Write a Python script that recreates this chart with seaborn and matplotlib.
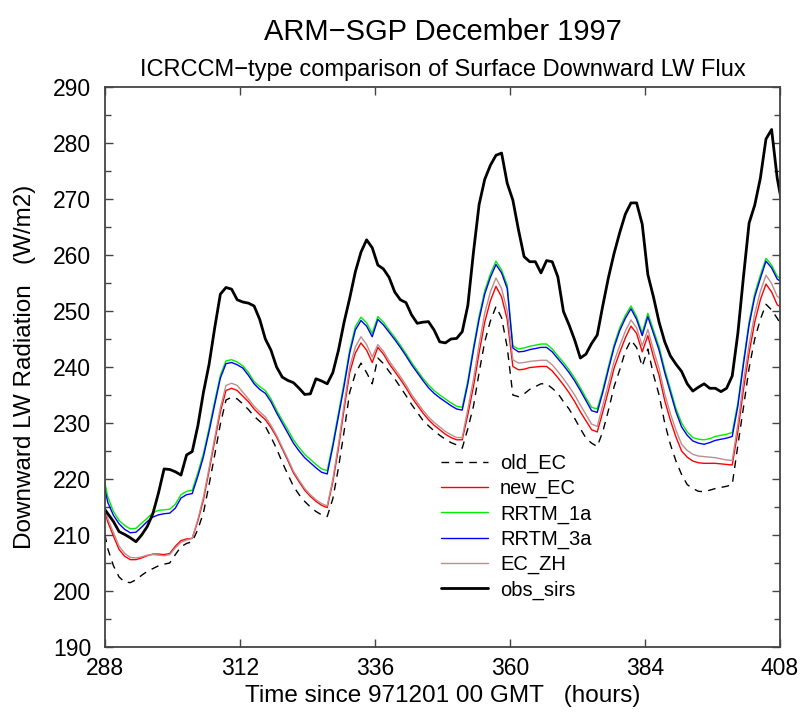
import numpy as np
import pandas as pd
import matplotlib
matplotlib.use("Agg")
import matplotlib.pyplot as plt
from matplotlib.ticker import MultipleLocator
import seaborn as sns

# hourly-mean times (hours since 971201 00 GMT)
hours = np.arange(287.5, 409.0, 1.0)

obs_sirs = [
    215.2, 213.8, 212.4, 210.6, 210.1, 209.5, 208.8, 210.0, 211.5, 213.8,
    217.5, 221.8, 221.7, 221.3, 220.7, 224.3, 224.9, 229.5, 235.5, 240.5,
    247.0, 253.0, 254.2, 253.9, 252.0, 251.6, 251.4, 250.9, 248.5, 245.0,
    243.0, 240.0, 238.2, 237.6, 237.2, 236.2, 235.1, 235.2, 237.9, 237.5,
    237.0, 239.0, 243.0, 248.0, 252.3, 257.0, 260.5, 262.7, 261.3, 258.2,
    257.5, 256.0, 253.4, 252.0, 251.5, 249.3, 247.8, 248.0, 248.1, 246.6,
    244.5, 244.3, 245.0, 245.1, 246.3, 251.0, 260.5, 269.0, 273.5, 276.0,
    277.8, 278.2, 272.8, 269.8, 264.5, 259.7, 258.8, 258.8, 256.8, 259.0,
    258.8, 256.1, 249.9, 247.5, 244.8, 241.6, 242.3, 244.2, 245.7, 251.0,
    256.0, 260.3, 264.0, 267.3, 269.3, 269.3, 265.5, 256.5, 252.5, 248.0,
    244.5, 242.0, 240.5, 239.2, 237.0, 235.7, 236.4, 237.0, 236.2, 236.2,
    235.6, 236.2, 238.4, 246.0, 256.1, 265.7, 268.9, 273.7, 280.7, 282.4,
    273.7, 268.3,
]

rrtm_3a = [
    220.3, 215.8, 213.5, 212.0, 211.0, 210.4, 210.5, 211.4, 212.4, 213.2,
    213.6, 213.8, 213.9, 214.8, 216.6, 217.2, 217.4, 220.5, 224.0, 228.5,
    233.3, 238.0, 240.6, 240.8, 240.4, 239.8, 238.5, 237.0, 236.0, 235.3,
    233.8, 231.8, 230.0, 228.2, 226.4, 225.0, 223.8, 222.9, 222.0, 221.2,
    220.9, 225.8, 231.2, 236.6, 242.5, 246.6, 248.3, 247.3, 245.4, 248.5,
    247.5, 246.2, 244.9, 243.5, 242.0, 240.4, 239.0, 237.6, 236.3, 235.3,
    234.5, 233.8, 233.1, 232.5, 232.3, 237.0, 243.0, 248.5, 253.0, 256.0,
    258.3, 256.8, 254.0, 243.4, 242.7, 242.8, 243.1, 243.3, 243.5, 243.5,
    242.7, 241.5, 240.3, 239.0, 237.5, 235.8, 234.0, 232.2, 231.9, 235.5,
    239.6, 243.5, 246.5, 248.7, 250.4, 248.5, 245.6, 249.0, 246.0, 243.0,
    239.0, 235.5, 232.0, 229.3, 227.8, 226.8, 226.4, 226.2, 226.5, 226.9,
    227.1, 227.3, 227.6, 233.0, 240.5, 247.5, 252.5, 255.8, 258.9, 257.7,
    255.7, 255.0,
]

rrtm_1a = [
    221.5, 216.8, 214.2, 212.6, 211.7, 211.1, 211.2, 212.1, 213.0, 214.0,
    214.4, 214.5, 214.6, 215.5, 217.2, 217.8, 218.0, 221.1, 224.6, 229.1,
    233.9, 238.5, 241.1, 241.3, 240.9, 240.2, 239.0, 237.4, 236.5, 235.8,
    234.3, 232.3, 230.5, 228.8, 227.0, 225.6, 224.4, 223.5, 222.6, 221.8,
    221.5, 226.4, 231.8, 237.2, 243.1, 247.2, 248.9, 247.9, 246.0, 249.0,
    248.0, 246.6, 245.3, 243.9, 242.4, 240.8, 239.4, 238.0, 236.8, 235.8,
    235.0, 234.3, 233.6, 233.0, 232.8, 237.6, 243.6, 249.1, 253.6, 256.6,
    258.9, 257.3, 254.6, 243.8, 243.2, 243.4, 243.7, 243.9, 244.1, 244.1,
    243.2, 242.0, 240.8, 239.5, 238.0, 236.3, 234.5, 232.8, 232.5, 236.0,
    240.1, 244.0, 247.0, 249.2, 250.9, 249.0, 246.1, 249.6, 246.6, 243.6,
    239.6, 236.1, 232.6, 230.0, 228.4, 227.4, 227.1, 227.0, 227.2, 227.6,
    227.8, 228.0, 228.3, 233.6, 241.1, 248.1, 253.1, 256.4, 259.4, 258.2,
    256.2, 255.4,
]

new_ec = [
    215.8, 212.3, 209.8, 207.4, 206.2, 205.6, 205.6, 205.9, 206.3, 206.6,
    206.6, 206.5, 206.7, 208.0, 209.0, 209.3, 209.4, 212.5, 216.3, 221.5,
    226.8, 232.0, 235.8, 236.2, 235.8, 234.8, 233.8, 232.5, 231.5, 230.6,
    229.2, 227.5, 225.4, 223.3, 221.1, 219.5, 218.0, 216.9, 216.0, 215.3,
    214.9, 219.5, 225.5, 232.5, 239.0, 242.5, 244.3, 243.0, 240.8, 243.5,
    242.3, 240.6, 239.2, 237.8, 236.3, 234.6, 233.2, 231.8, 230.6, 229.6,
    228.8, 228.0, 227.4, 227.0, 227.0, 231.5, 236.5, 242.5, 248.0, 251.8,
    254.4, 252.5, 248.5, 240.1, 239.5, 239.6, 239.9, 240.0, 240.1, 240.1,
    239.3, 238.1, 236.8, 235.4, 233.8, 232.0, 230.4, 228.8, 228.4, 232.0,
    235.8, 239.8, 242.6, 245.2, 247.3, 246.0, 242.7, 245.6, 241.8, 238.5,
    234.0, 230.5, 227.5, 225.0, 223.9, 223.2, 222.9, 222.8, 222.8, 222.8,
    222.7, 222.6, 222.5, 228.5, 236.0, 242.5, 248.0, 252.0, 254.8, 253.4,
    251.1, 250.5,
]

ec_zh = [
    216.3, 212.9, 210.4, 208.0, 206.7, 206.0, 205.9, 206.1, 206.4, 206.5,
    206.4, 206.3, 206.5, 207.7, 208.7, 209.1, 209.4, 212.8, 216.8, 222.0,
    227.4, 232.7, 236.7, 237.1, 236.7, 235.5, 234.3, 233.0, 232.0, 231.1,
    229.6, 227.8, 225.7, 223.6, 221.4, 219.8, 218.3, 217.2, 216.3, 215.6,
    215.2, 220.0, 226.2, 233.3, 240.0, 243.6, 245.4, 244.0, 241.8, 244.0,
    242.8, 241.1, 239.7, 238.3, 236.8, 235.1, 233.7, 232.3, 231.1, 230.1,
    229.3, 228.5, 227.9, 227.4, 227.4, 232.5, 237.8, 244.0, 249.6, 253.4,
    255.9, 254.0, 250.0, 241.3, 240.7, 240.8, 241.0, 241.1, 241.2, 241.2,
    240.4, 239.2, 237.9, 236.5, 235.0, 233.2, 231.5, 229.8, 229.4, 233.2,
    237.0, 241.0, 243.8, 246.4, 248.4, 247.0, 243.8, 246.7, 243.0, 239.7,
    235.2, 231.7, 228.7, 226.2, 225.1, 224.4, 224.1, 224.0, 223.9, 223.8,
    223.6, 223.4, 223.3, 229.8, 237.4, 244.0, 249.5, 253.5, 256.4, 254.9,
    252.6, 252.0,
]

old_ec = [
    212.5, 207.5, 204.5, 202.5, 201.6, 201.5, 202.0, 202.8, 203.5, 204.0,
    204.5, 204.8, 205.0, 206.5, 207.9, 208.5, 208.8, 211.0, 214.0, 219.0,
    224.3, 229.8, 234.1, 234.6, 234.3, 233.4, 232.4, 231.2, 230.3, 229.4,
    227.5, 225.4, 223.0, 220.8, 218.7, 217.2, 216.0, 215.0, 214.2, 213.6,
    213.3, 216.5, 222.0, 228.5, 235.5, 238.8, 240.7, 239.0, 237.0, 241.6,
    240.6, 239.2, 237.9, 236.4, 234.9, 233.3, 231.9, 230.5, 229.5, 228.6,
    227.8, 227.1, 226.5, 226.1, 225.5, 229.0, 233.0, 239.0, 244.5, 248.2,
    250.8, 248.8, 243.5, 235.0, 234.7, 235.2, 236.0, 236.5, 237.0, 237.0,
    236.2, 235.3, 233.8, 232.5, 230.8, 229.0, 227.3, 226.4, 225.8, 228.5,
    232.3, 236.5, 239.5, 242.8, 244.8, 243.5, 240.1, 243.2, 238.6, 235.0,
    230.0, 226.2, 223.2, 220.8, 219.0, 218.3, 217.8, 217.75, 218.0, 218.3,
    218.5, 218.7, 219.0, 226.0, 232.8, 239.8, 245.0, 248.5, 251.2, 250.2,
    248.7, 247.0,
]

series_names = ["old_EC", "new_EC", "RRTM_1a", "RRTM_3a", "EC_ZH", "obs_sirs"]
x_ticks = [288, 312, 336, 360, 384, 408]
y_ticks = [190, 200, 210, 220, 230, 240, 250, 260, 270, 280, 290]

df = pd.DataFrame({
    "hour": hours,
    "old_EC": old_ec,
    "new_EC": new_ec,
    "RRTM_1a": rrtm_1a,
    "RRTM_3a": rrtm_3a,
    "EC_ZH": ec_zh,
    "obs_sirs": obs_sirs,
})

sns.set_style("ticks")
plt.rcParams["font.family"] = ["Liberation Sans", "DejaVu Sans"]
plt.rcParams["text.color"] = "black"
plt.rcParams["axes.labelcolor"] = "black"
plt.rcParams["xtick.labelcolor"] = "black"
plt.rcParams["ytick.labelcolor"] = "black"

styles = {
    "old_EC": dict(color="black", lw=1.0, ls=(0, (5.5, 4.5))),
    "new_EC": dict(color="#ff0000", lw=1.0, ls="-"),
    "RRTM_1a": dict(color="#00ee00", lw=1.0, ls="-"),
    "RRTM_3a": dict(color="#0000ff", lw=1.0, ls="-"),
    "EC_ZH": dict(color="#bc8f8f", lw=1.0, ls="-"),
    "obs_sirs": dict(color="black", lw=2.0, ls="-"),
}

fig = plt.figure(figsize=(8.03, 7.17), dpi=100)
ax = fig.add_axes([0.1308, 0.0976, 0.8406, 0.7811])

for name in series_names:
    st = styles[name]
    sns.lineplot(data=df, x="hour", y=name, ax=ax, color=st["color"],
                 linewidth=st["lw"], linestyle=st["ls"], label=name)

ax.set_xlim(288, 408)
ax.set_ylim(190, 290)
ax.set_xticks(x_ticks)
ax.set_yticks(y_ticks)
ax.yaxis.set_minor_locator(MultipleLocator(5))
ax.tick_params(axis="both", which="both", direction="in", top=True, right=True,
               color="#444444", labelcolor="black")
ax.tick_params(axis="both", which="major", length=6, width=1.0, labelsize=16.5)
ax.tick_params(axis="y", which="major", pad=10)
ax.tick_params(axis="x", which="major", pad=7)
ax.tick_params(axis="y", which="minor", length=4, width=1.0)
for sp in ax.spines.values():
    sp.set_color("#444444")
    sp.set_linewidth(1.3)

ax.set_xlabel("Time since 971201 00 GMT   (hours)", fontsize=17.5, labelpad=4,
              color="black")
ax.set_ylabel("Downward LW Radiation   (W/m2)", fontsize=17.5, labelpad=12,
              color="black")

fig.text(0.551, 0.944, "ARM\u2212SGP December 1997", ha="center", va="baseline",
         fontsize=21, color="black")
fig.text(0.551, 0.894, "ICRCCM\u2212type comparison of Surface Downward LW Flux",
         ha="center", va="baseline", fontsize=17, color="black")

leg = ax.legend(loc="upper left", bbox_to_anchor=(0.497, 0.345), frameon=False,
                fontsize=14.5, handlelength=2.35, handletextpad=0.6,
                labelspacing=0.3, borderpad=0, borderaxespad=0)
for t in leg.get_texts():
    t.set_color("black")

fig.savefig("out.png", dpi=100)
